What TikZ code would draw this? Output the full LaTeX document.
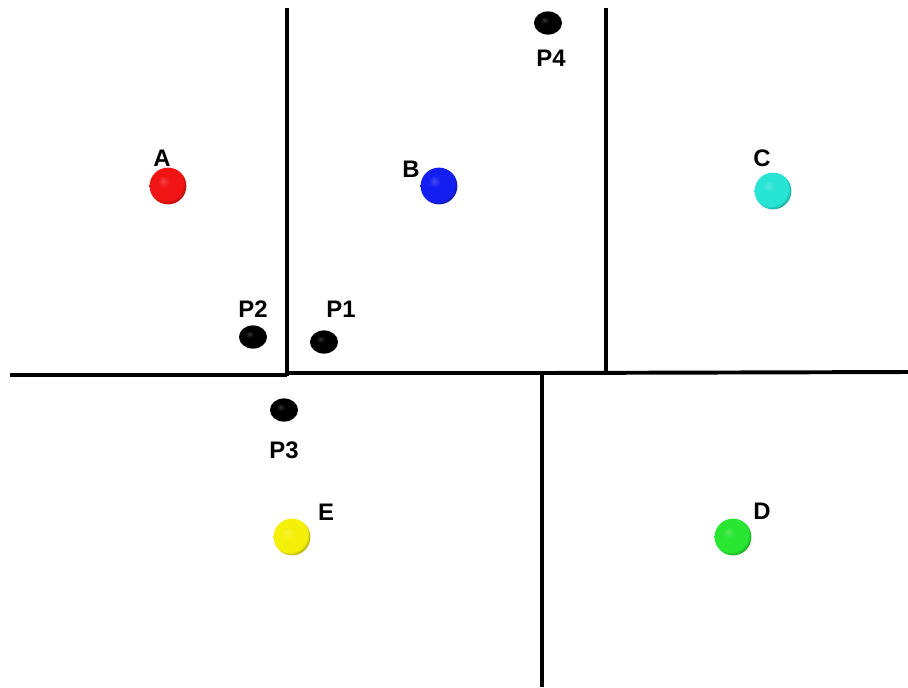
\documentclass[tikz,border=0pt]{standalone}
\usepackage{fontspec}
\setmainfont{Liberation Sans}
\usetikzlibrary{positioning, shapes.geometric}

\definecolor{ballred}{RGB}{240,20,20}
\definecolor{ballblue}{RGB}{20,30,240}
\definecolor{ballgreen}{RGB}{40,230,50}
\definecolor{ballcyan}{RGB}{40,228,212}
\definecolor{ballyellow}{RGB}{245,240,10}
\colorlet{sitecol}{red}

% soft ball: flat colour, light spot top left, dark rim bottom right
\pgfdeclareradialshading[sitecol]{softball}{\pgfqpoint{-7bp}{7bp}}{%
  color(0bp)=(sitecol!80!white); color(8bp)=(sitecol);
  color(24bp)=(sitecol); color(31bp)=(sitecol!55!black);
  color(50bp)=(sitecol!30!black)}

\begin{document}
\begin{tikzpicture}[
    x=0.025cm, y=-0.025cm,
    site/.style={circle, inner sep=0pt, minimum size=0.92cm, draw=none,
        /utils/exec={\colorlet{sitecol}{#1}}, shading=softball},
    pt/.style={ellipse, inner sep=0pt, minimum width=0.7cm, minimum height=0.58cm, draw=none,
        /utils/exec={\colorlet{sitecol}{black}}, shading=softball},
    lbl/.style={font=\fontsize{17}{19}\selectfont\bfseries, inner sep=0pt},
    wall/.style={line width=2.8pt, black}
]
    \useasboundingbox (0,0) rectangle (908,687);

    % borders
    \coordinate (v1top) at (287,8);
    \coordinate (v1bot) at (287,376);
    \coordinate (v2top) at (606,8);
    \coordinate (v2bot) at (606,372);
    \coordinate (hleft) at (10,375);
    \coordinate (hmid) at (287,373);
    \coordinate (hcut) at (542,373);
    \coordinate (hright) at (908,372);
    \coordinate (v3bot) at (542,687);

    \draw[wall] (v1top) -- (v1bot);
    \draw[wall] (v2top) -- (v2bot);
    \draw[wall] (hleft) -- (287,375);
    \draw[wall] (hmid) -- (hcut);
    \draw[wall] (hcut) -- (hright);
    \draw[wall] (542,371) -- (v3bot);

    % sites
    \node[site=ballred]    (A) at (168,186) {};
    \node[site=ballblue]   (B) at (439,186) {};
    \node[site=ballcyan]   (C) at (773,191) {};
    \node[site=ballgreen]  (D) at (733,537) {};
    \node[site=ballyellow] (E) at (292,537) {};

    % query points
    \node[pt] (P1) at (324,342) {};
    \node[pt] (P2) at (253,337) {};
    \node[pt] (P3) at (284,410) {};
    \node[pt] (P4) at (548,23) {};

    % labels
    \node[lbl] (lA) at (162,158) {A};
    \node[lbl] (lB) at (411,169) {B};
    \node[lbl] (lC) at (762,158) {C};
    \node[lbl] (lD) at (762,511) {D};
    \node[lbl] (lE) at (326,512) {E};
    \node[lbl] (lP1) at (341,309) {P1};
    \node[lbl] (lP2) at (253,309) {P2};
    \node[lbl] (lP3) at (284,450) {P3};
    \node[lbl] (lP4) at (551,58) {P4};
\end{tikzpicture}
\end{document}
